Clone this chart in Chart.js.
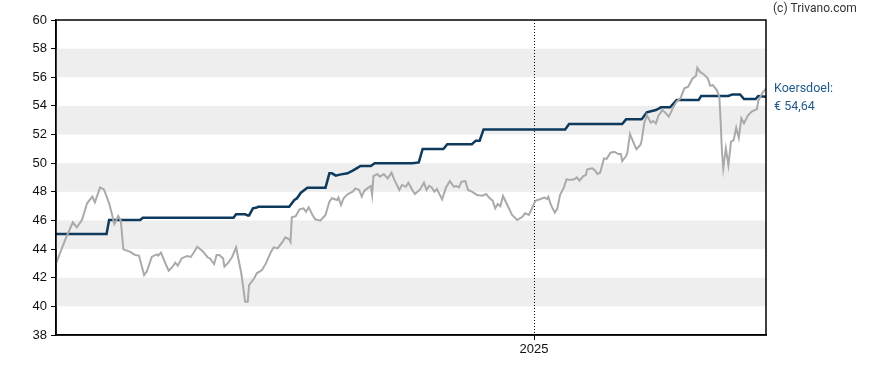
<!DOCTYPE html>
<html>
<head>
<meta charset="utf-8">
<script src="https://cdn.jsdelivr.net/npm/chart.js@4/dist/chart.umd.min.js"></script>
<style>
  body { margin: 0; background: #fff; }
  #wrap { width: 888px; height: 370px; position: relative; }
</style>
</head>
<body>
<div id="wrap"><canvas id="chart" width="888" height="370"></canvas></div>
<script>
// days since start of the chart (2025-01-01 = day 369)
var priceDays = [0,3,7,13,16,20,24,28,30,34,37,41,43,45,46,48,50,52,57,61,64,68,70,74,78,79,81,85,87,90,92,94,97,101,104,106,109,113,117,119,122,124,126,129,130,133,136,139,143,146,148,149,153,155,159,162,166,168,171,175,177,180,181,182,185,188,191,193,195,198,200,204,208,211,213,217,218,220,222,225,229,231,234,236,238,241,243,244,245,248,250,253,256,259,261,265,267,270,272,275,277,281,284,286,288,290,292,294,298,301,304,307,309,311,313,316,318,321,325,329,332,334,337,339,341,343,345,348,352,356,360,362,365,368,370,374,377,379,380,382,385,387,389,392,394,397,400,402,404,407,409,410,414,416,418,420,423,425,428,431,434,436,437,440,441,443,446,448,451,452,454,456,459,461,463,465,468,470,473,476,479,482,485,488,491,494,495,497,500,503,505,507,510,512,513,514,515,517,519,521,523,525,527,529,531,534,537,541,542,545,548];
var priceValues = [42.96,43.7,44.63,45.87,45.52,46.03,47.2,47.66,47.27,48.31,48.17,47.2,46.5,45.75,45.9,46.31,46.0,43.98,43.82,43.59,43.55,42.19,42.42,43.47,43.63,43.55,43.75,42.89,42.49,42.77,43.05,42.84,43.35,43.52,43.45,43.71,44.17,43.87,43.43,43.33,42.96,43.59,43.59,43.35,42.77,43.05,43.47,44.12,42.31,40.33,40.33,41.49,41.96,42.31,42.54,43.0,43.82,44.12,44.05,44.52,44.82,44.68,44.5,46.22,46.3,46.78,46.85,46.61,46.92,46.38,46.08,45.98,46.38,47.31,47.55,47.43,47.6,47.08,47.55,47.83,48.01,48.24,48.13,47.66,48.08,48.29,48.4,47.78,49.1,49.24,49.06,49.24,48.94,49.34,48.87,48.13,48.48,48.36,48.64,48.13,47.85,48.17,48.64,48.13,48.41,48.31,48.01,48.2,47.47,48.31,48.75,48.36,48.41,48.31,48.71,48.75,48.13,48.01,47.78,47.73,47.85,47.62,47.38,46.85,47.15,47.0,47.71,47.15,46.38,46.03,46.26,46.5,46.38,46.96,47.38,47.5,47.6,47.5,47.66,47.08,46.54,46.85,47.78,48.31,48.87,48.83,48.87,49.01,48.78,49.1,49.17,49.57,49.64,49.5,49.24,49.34,50.34,50.3,50.73,50.8,50.64,50.64,50.15,50.5,50.73,52.04,51.39,50.97,51.27,51.57,52.78,53.37,52.83,52.95,52.78,53.32,53.71,53.55,53.25,53.83,54.3,54.53,55.23,55.34,55.88,56.11,56.67,56.39,56.2,55.93,55.41,55.45,55.11,54.64,52.9,50.8,49.64,51.04,49.87,51.5,51.6,52.48,51.78,53.13,52.78,53.32,53.6,53.78,54.34,54.88,55.2];

var targetDays = [0,39,41,65,67,137,139,146,148,149,152,155,156,180,184,186,189,191,194,208,211,213,216,219,225,229,232,235,243,246,275,280,283,299,302,321,324,327,330,393,396,437,440,452,456,463,467,474,479,496,498,519,522,528,531,540,542,548];
var targetValues = [45.05,45.05,46.03,46.03,46.19,46.19,46.43,46.43,46.35,46.35,46.85,46.9,46.96,46.96,47.43,47.55,47.94,48.08,48.29,48.29,49.29,49.29,49.13,49.2,49.29,49.48,49.64,49.8,49.8,49.99,49.99,50.05,50.99,50.99,51.32,51.32,51.57,51.57,52.36,52.36,52.74,52.74,53.06,53.06,53.55,53.71,53.9,53.9,54.41,54.41,54.69,54.69,54.8,54.8,54.48,54.48,54.69,54.64];

var yearTickDay = 369;
var yearTickLabel = '2025';
var bandRanges = [[40, 42], [44, 46], [48, 50], [52, 54], [56, 58]];
var targetLabel = 'Koersdoel:';
var targetText = '€ 54,64';
var copyright = '(c) Trivano.com';

function toPoints(xs, ys) {
  var out = [];
  for (var i = 0; i < xs.length; i++) out.push({ x: xs[i], y: ys[i] });
  return out;
}

var decor = {
  id: 'decor',
  beforeDatasetsDraw: function(chart) {
    var ctx = chart.ctx, a = chart.chartArea, y = chart.scales.y, x = chart.scales.x;
    ctx.save();
    ctx.fillStyle = '#eeeeee';
    bandRanges.forEach(function(b) {
      var top = y.getPixelForValue(b[1]), bot = y.getPixelForValue(b[0]);
      ctx.fillRect(a.left, top, a.right - a.left, bot - top);
    });
    var px = Math.round(x.getPixelForValue(yearTickDay)) + 0.5;
    ctx.strokeStyle = '#000';
    ctx.lineWidth = 1;
    ctx.setLineDash([1, 2]);
    ctx.beginPath();
    ctx.moveTo(px, a.top);
    ctx.lineTo(px, a.bottom);
    ctx.stroke();
    ctx.restore();
  },
  afterDraw: function(chart) {
    var ctx = chart.ctx, a = chart.chartArea, y = chart.scales.y;
    ctx.save();
    ctx.strokeStyle = '#000';
    ctx.lineWidth = 1.5;
    ctx.strokeRect(a.left, a.top, a.right - a.left, a.bottom - a.top);
    ctx.textBaseline = 'middle';
    ctx.textAlign = 'left';
    ctx.font = '12px Roboto';
    ctx.fillStyle = '#333';
    ctx.fillText(copyright, 773, 9);
    var ty = y.getPixelForValue(targetValues[targetValues.length - 1]);
    ctx.fillStyle = '#1f5a8a';
    ctx.font = '12.5px Roboto';
    ctx.fillText(targetLabel, a.right + 8, ty - 8);
    ctx.fillText(targetText, a.right + 8, ty + 10);
    ctx.restore();
  }
};

new Chart(document.getElementById('chart'), {
  type: 'line',
  data: {
    datasets: [{
      label: 'Koers',
      data: toPoints(priceDays, priceValues),
      borderColor: '#aaaaaa',
      borderWidth: 2,
      pointRadius: 0,
      tension: 0
    }, {
      label: 'Koersdoel',
      data: toPoints(targetDays, targetValues),
      borderColor: '#0e3a5e',
      borderWidth: 2.5,
      pointRadius: 0,
      tension: 0
    }]
  },
  options: {
    responsive: false,
    animation: false,
    layout: { padding: { top: 20, right: 122, left: 0, bottom: 0 } },
    plugins: { legend: { display: false }, tooltip: { enabled: false } },
    scales: {
      x: {
        type: 'linear',
        min: 0,
        max: 548,
        afterBuildTicks: function(s) { s.ticks = [{ value: yearTickDay }]; },
        afterFit: function(s) { s.height = 35; },
        ticks: {
          callback: function() { return yearTickLabel; },
          color: '#111',
          font: { family: 'Arial', size: 13 },
          padding: 2,
          maxRotation: 0
        },
        grid: { drawOnChartArea: false, drawTicks: true, tickLength: 5, color: '#000' },
        border: { display: true, color: '#000', width: 1.5 }
      },
      y: {
        min: 38,
        max: 60,
        afterBuildTicks: function(s) {
          var t = [];
          for (var v = 38; v <= 60; v += 2) t.push({ value: v });
          s.ticks = t;
        },
        afterFit: function(s) { s.width = 56; },
        ticks: {
          color: '#111',
          font: { family: 'Arial', size: 13 },
          padding: 4
        },
        grid: { drawOnChartArea: false, drawTicks: true, tickLength: 5, color: '#000' },
        border: { display: true, color: '#000', width: 1.5 }
      }
    }
  },
  plugins: [decor]
});
</script>
</body>
</html>
